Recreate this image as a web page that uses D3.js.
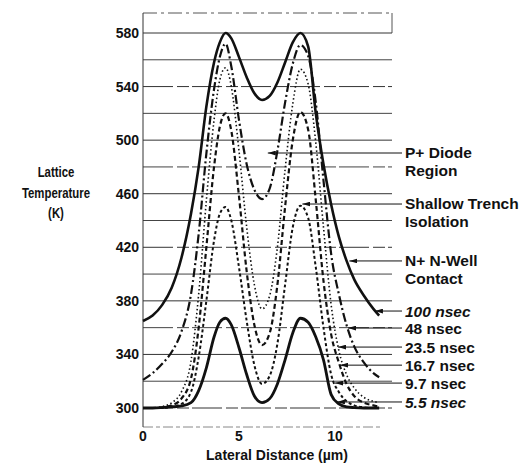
<!DOCTYPE html>
<html>
<head>
<meta charset="utf-8">
<script src="https://cdn.jsdelivr.net/npm/d3@7"></script>
<style>
  body { margin: 0; background: #fff; }
  text { font-family: "Liberation Sans", Arial, Helvetica, sans-serif; font-weight: bold; fill: #111; }
</style>
</head>
<body>
<svg id="chart"></svg>
<script>
// lateral positions (um) shared by all series
const xGrid = [0, 0.5, 1, 1.5, 2, 2.5, 2.9, 3.3, 3.7, 4.0, 4.3, 4.6, 5.0, 5.4, 5.8, 6.2,
  6.6, 7.0, 7.4, 7.8, 8.2, 8.6, 9.0, 9.4, 9.8, 10.2, 10.6, 11.0, 11.5, 12.0, 12.3];

// lattice temperature (K)
const t100 = [365, 369, 377, 390, 412, 445, 480, 525, 558, 573, 580, 576, 562, 547, 535, 530,
  533, 543, 558, 573, 580, 570, 520, 482, 452, 428, 410, 396, 384, 374, 369];
const t48 = [321, 326, 333, 342, 357, 385, 430, 490, 538, 562, 572, 555, 515, 482, 463, 456,
  464, 492, 528, 557, 571, 563, 528, 470, 415, 385, 362, 346, 334, 326, 323];
const t23 = [300, 300, 301, 304, 312, 335, 385, 455, 515, 545, 554, 540, 492, 435, 392, 374,
  384, 420, 478, 527, 553, 542, 498, 435, 377, 343, 325, 315, 308, 305, 304];
const t16 = [300, 300, 300.5, 302, 307, 322, 360, 420, 480, 510, 520, 507, 458, 402, 362, 347,
  356, 392, 450, 500, 521, 508, 455, 395, 355, 334, 318, 309, 304, 302, 301];
const t97 = [300, 300, 300, 301, 303, 312, 338, 380, 425, 445, 450, 440, 405, 365, 332, 318,
  324, 348, 392, 435, 451, 442, 405, 360, 325, 312, 305, 302, 300.5, 300, 300];
const t55 = [300, 300, 300.3, 300.8, 301.5, 304, 313, 330, 353, 364, 367, 362, 345, 325, 309, 304,
  307, 318, 336, 356, 367, 364, 353, 336, 310, 303, 300.8, 300.3, 300, 300, 300];

const gridTemps = d3.range(300, 581, 20);
const tickTemps = [300, 340, 380, 420, 460, 500, 540, 580];
const tickDist = [0, 5, 10];

// time labels: label level (K) and where the arrow tip stops (um)
const timeLabels = ["100 nsec", "48 nsec", "23.5 nsec", "16.7 nsec", "9.7 nsec", "5.5 nsec"];
const timeLevels = [372.4, 359.7, 345.5, 332, 318.6, 304.5];
const timeTipX = [12.08, 10.68, 10.16, 10.26, 10.0, 10.1];

// region annotations
const regionLabels = [["P+ Diode", "Region"], ["Shallow Trench", "Isolation"], ["N+ N-Well", "Contact"]];
const regionLevels = [490.4, 452.3, 409.8];
const regionTipX = [6.5, 8.3, 10.75];

const width = 525, height = 464;
const svg = d3.select("#chart").attr("width", width).attr("height", height);

const x = d3.scaleLinear().domain([0, 10]).range([143, 335]);
const y = d3.scaleLinear().domain([300, 580]).range([408, 33]);
const xRight = 392;

// --- frame & grid ---
svg.append("line").attr("x1", 143).attr("x2", xRight).attr("y1", 13).attr("y2", 13)
  .attr("stroke", "#555").attr("stroke-dasharray", "14,4,3,4");
svg.append("line").attr("x1", xRight).attr("x2", xRight).attr("y1", 13).attr("y2", 33)
  .attr("stroke", "#555");
svg.append("line").attr("x1", 143).attr("x2", 380).attr("y1", 427).attr("y2", 427)
  .attr("stroke", "#888").attr("stroke-dasharray", "10,3,4,3");

svg.append("g").selectAll("line").data(gridTemps).join("line")
  .attr("x1", 143).attr("x2", xRight)
  .attr("y1", d => y(d)).attr("y2", d => y(d))
  .attr("stroke", (d, i) => i % 2 ? "#444" : "#333")
  .attr("stroke-width", 1)
  .attr("stroke-dasharray", (d, i) => i % 3 === 0 ? "30,4,12,3" : null);

// y axis line
svg.append("line").attr("x1", 143).attr("x2", 143).attr("y1", 13).attr("y2", 427)
  .attr("stroke", "#333").attr("stroke-width", 1);

// y tick labels
svg.append("g").selectAll("text").data(tickTemps).join("text")
  .attr("x", 139).attr("y", d => y(d)).attr("dy", "0.36em")
  .attr("text-anchor", "end").style("font-size", "14px")
  .text(d => d);

// x tick labels
svg.append("g").selectAll("text").data(tickDist).join("text")
  .attr("x", d => x(d)).attr("y", 436).attr("dy", "0.36em")
  .attr("text-anchor", "middle").style("font-size", "14px")
  .text(d => d);

// axis titles
svg.append("text").attr("x", 277).attr("y", 455).attr("dy", "0.36em")
  .attr("text-anchor", "middle").style("font-size", "14px")
  .text("Lateral Distance (\u00b5m)");

// condensed look: squeeze the title horizontally
const yTitle = svg.append("text").attr("text-anchor", "middle")
  .attr("transform", "translate(56,0) scale(0.76,1)")
  .style("font-size", "15px");
["Lattice", "Temperature", "(K)"].forEach((s, i) => {
  yTitle.append("tspan").attr("x", 0).attr("y", 172 + i * 20.5).attr("dy", "0.36em").text(s);
});

// --- curves ---
const line = d3.line().x(d => x(d[0])).y(d => y(d[1])).curve(d3.curveMonotoneX);
const series = [
  { t: t100, w: 2.6, dash: null },
  { t: t48, w: 2.2, dash: "9,3,2,3" },
  { t: t23, w: 1.6, dash: "1.5,2.5" },
  { t: t16, w: 2.2, dash: "5,3" },
  { t: t97, w: 2.0, dash: "3,2.5" },
  { t: t55, w: 2.8, dash: null }
];
svg.append("g").selectAll("path").data(series).join("path")
  .attr("d", s => line(xGrid.map((xv, i) => [xv, s.t[i]])))
  .attr("fill", "none").attr("stroke", "#111")
  .attr("stroke-width", s => s.w)
  .attr("stroke-dasharray", s => s.dash);

// --- arrows & labels ---
const defs = svg.append("defs");
defs.append("marker").attr("id", "arr").attr("viewBox", "0 0 10 6")
  .attr("refX", 10).attr("refY", 3).attr("markerWidth", 8).attr("markerHeight", 5)
  .attr("markerUnits", "userSpaceOnUse").attr("orient", "auto")
  .append("path").attr("d", "M0,0 L10,3 L0,6 Z").attr("fill", "#111");

const labelX = 405;
const arrowStart = 402;

regionLabels.forEach((lines, i) => {
  const ay = y(regionLevels[i]);
  svg.append("line").attr("x1", arrowStart).attr("x2", x(regionTipX[i]))
    .attr("y1", ay).attr("y2", ay).attr("stroke", "#111").attr("stroke-width", 1)
    .attr("marker-end", "url(#arr)");
  lines.forEach((s, j) => {
    svg.append("text").attr("x", labelX).attr("y", ay - 1 + j * 18).attr("dy", "0.36em")
      .style("font-size", "15.5px").text(s);
  });
});

timeLabels.forEach((s, i) => {
  const ay = y(timeLevels[i]);
  svg.append("line").attr("x1", arrowStart).attr("x2", x(timeTipX[i]))
    .attr("y1", ay).attr("y2", ay).attr("stroke", "#111").attr("stroke-width", 1)
    .attr("marker-end", "url(#arr)");
  svg.append("text").attr("x", labelX).attr("y", ay).attr("dy", "0.36em")
    .style("font-size", "15.5px")
    .style("font-style", i === 0 || i === 5 ? "italic" : "normal")
    .text(s);
});
</script>
</body>
</html>
